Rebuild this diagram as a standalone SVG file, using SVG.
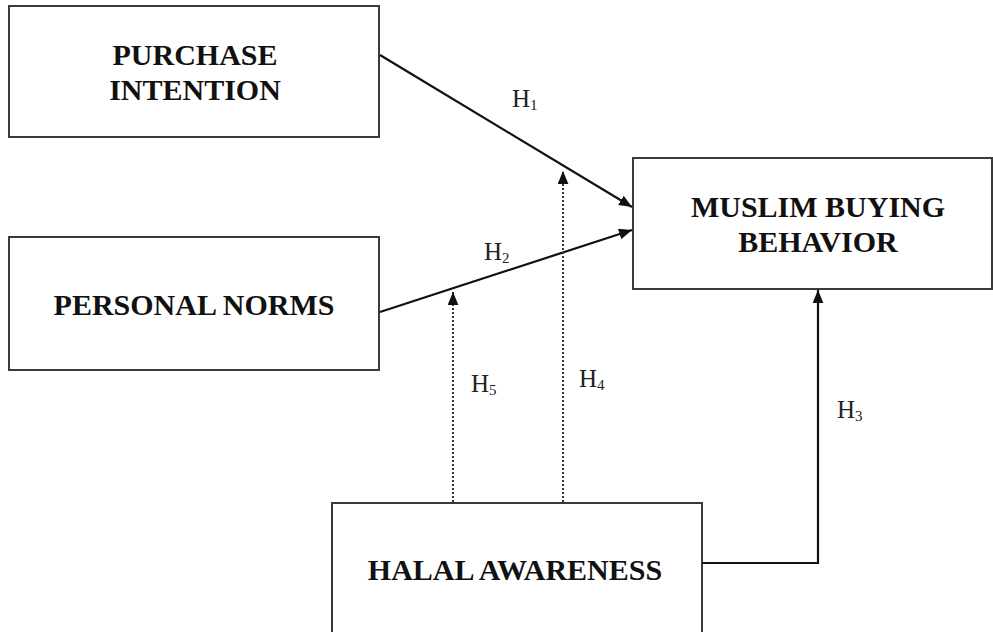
<svg xmlns="http://www.w3.org/2000/svg" width="993" height="632" viewBox="0 0 993 632">
<style>
.box{fill:#fff;stroke:#3a3a3a;stroke-width:2}
.t{font-family:"Liberation Serif","Times New Roman",serif;font-weight:bold;font-size:30px;fill:#111;text-anchor:middle}
.h{font-family:"Liberation Serif","Times New Roman",serif;font-size:25px;fill:#222}
.sub{font-size:15px}
.c{stroke:#111;stroke-width:2.2;fill:none}
.d{stroke:#333;stroke-width:2;fill:none;stroke-dasharray:2 2}
</style>
<defs>
<marker id="ah" viewBox="0 0 12 10" refX="12" refY="5" markerWidth="13" markerHeight="11" markerUnits="userSpaceOnUse" orient="auto">
<path d="M0,0 L12,5 L0,10 Z" fill="#111"/>
</marker>
</defs>
<rect width="993" height="632" fill="#fff"/>
<g id="purchase-intention">
<rect class="box" x="9" y="6" width="370" height="131"/>
<text class="t" x="195" y="65">PURCHASE</text>
<text class="t" x="195" y="100">INTENTION</text>
</g>
<g id="personal-norms">
<rect class="box" x="9" y="237" width="370" height="133"/>
<text class="t" x="194" y="315">PERSONAL NORMS</text>
</g>
<g id="muslim-buying-behavior">
<rect class="box" x="633" y="158" width="359" height="131"/>
<text class="t" x="818" y="217">MUSLIM BUYING</text>
<text class="t" x="818" y="252">BEHAVIOR</text>
</g>
<g id="halal-awareness">
<rect class="box" x="332" y="503" width="370" height="140"/>
<text class="t" x="515" y="580">HALAL AWARENESS</text>
</g>
<g id="connectors">
<line class="c" x1="380" y1="55" x2="632" y2="207" marker-end="url(#ah)"/>
<line class="c" x1="380" y1="312" x2="632" y2="230" marker-end="url(#ah)"/>
<line class="d" x1="453" y1="502" x2="453" y2="292" marker-end="url(#ah)"/>
<line class="d" x1="563" y1="502" x2="563" y2="171" marker-end="url(#ah)"/>
<polyline class="c" points="702,563 818,563 818,290" marker-end="url(#ah)"/>
<text class="h" x="512" y="107">H<tspan class="sub" dy="3">1</tspan></text>
<text class="h" x="484" y="260">H<tspan class="sub" dy="3">2</tspan></text>
<text class="h" x="471" y="392">H<tspan class="sub" dy="3">5</tspan></text>
<text class="h" x="579" y="387">H<tspan class="sub" dy="3">4</tspan></text>
<text class="h" x="837" y="418">H<tspan class="sub" dy="3">3</tspan></text>
</g>
</svg>
